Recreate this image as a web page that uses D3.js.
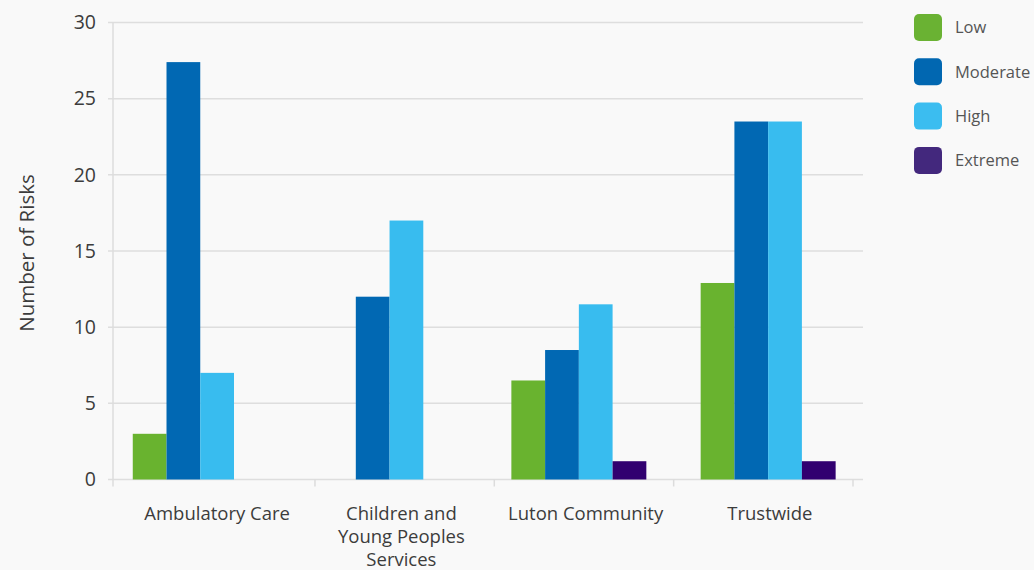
<!DOCTYPE html>
<html>
<head>
<meta charset="utf-8">
<script src="https://cdn.jsdelivr.net/npm/d3@7"></script>
<style>
  html, body { margin: 0; padding: 0; background: #f9f9f9; }
  svg { display: block; font-family: "Open Sans", "Noto Sans", sans-serif; }
</style>
</head>
<body>
<svg id="chart" width="1034" height="570"></svg>
<script>
// ---- data ----
const categories = ["Ambulatory Care", "Children and Young Peoples Services", "Luton Community", "Trustwide"];
const categoryLines = [["Ambulatory Care"], ["Children and", "Young Peoples", "Services"], ["Luton Community"], ["Trustwide"]];
const seriesNames = ["Low", "Moderate", "High", "Extreme"];
const lowValues      = [3, 0, 6.5, 12.9];
const moderateValues = [27.4, 12, 8.5, 23.5];
const highValues     = [7, 17, 11.5, 23.5];
const extremeValues  = [0, 0, 1.2, 1.2];
const yTicks = [0, 5, 10, 15, 20, 25, 30];
const yTitle = "Number of Risks";

// ---- styles ----
const barColors = ["#69b32f", "#0168b3", "#38bcef", "#310070"];
const legendColors = ["#6ab233", "#0167b1", "#3bbdf0", "#43287d"];

const seriesValues = [lowValues, moderateValues, highValues, extremeValues];
const rows = categories.map((c, i) => ({
  cat: c, lines: categoryLines[i],
  vals: seriesNames.map((s, j) => ({ series: s, idx: j, value: seriesValues[j][i] }))
}));

const svg = d3.select("#chart");
const plotLeft = 113, plotRight = 862, plotTop = 22.5, plotBottom = 479.5;

const y = d3.scaleLinear().domain([0, 30]).range([plotBottom, plotTop]);
const xBars = d3.scaleBand().domain(categories).range([105.6, 862.8]).paddingInner(0.287).paddingOuter(0.1435);
const xInner = d3.scaleBand().domain(seriesNames).range([0, xBars.bandwidth()]);
const xLabels = d3.scaleBand().domain(categories).range([125, 862]);
const xTicks = d3.scaleBand().domain(categories).range([135.6, 853]);

// gridlines
const grid = svg.append("g");
grid.selectAll("line").data(yTicks).join("line")
  .attr("x1", plotLeft - 5).attr("x2", plotRight + 1)
  .attr("y1", d => y(d)).attr("y2", d => y(d))
  .attr("stroke", "#dedede").attr("stroke-width", 1.5);

// y axis line
svg.append("line").attr("x1", plotLeft).attr("x2", plotLeft)
  .attr("y1", plotTop).attr("y2", plotBottom + 7)
  .attr("stroke", "#dcdcdc").attr("stroke-width", 1.5);

// y axis labels
const yAxis = d3.axisLeft(y).tickValues(yTicks).tickSize(0).tickPadding(0);
const yg = svg.append("g").attr("transform", `translate(96,0)`).call(yAxis);
yg.select(".domain").remove();
yg.selectAll("text").attr("font-size", 19.5).attr("fill", "#3c3c3c")
  .attr("font-family", "'Open Sans', sans-serif");

// y title
svg.append("text")
  .attr("transform", `translate(34,${(plotTop + plotBottom) / 2 + 2}) rotate(-90)`)
  .attr("text-anchor", "middle").attr("font-size", 20.5).attr("fill", "#3c3c3c")
  .text(yTitle);

// x ticks
svg.append("g").selectAll("line").data(categories).join("line")
  .attr("x1", d => xTicks(d) + xTicks.bandwidth()).attr("x2", d => xTicks(d) + xTicks.bandwidth())
  .attr("y1", plotBottom).attr("y2", plotBottom + 7)
  .attr("stroke", "#dcdcdc").attr("stroke-width", 1.5);

// bars
const groups = svg.append("g").selectAll("g").data(rows).join("g")
  .attr("transform", d => `translate(${xBars(d.cat)},0)`);
groups.selectAll("rect").data(d => d.vals.filter(v => v.value > 0)).join("rect")
  .attr("x", d => xInner(d.series))
  .attr("width", xInner.bandwidth())
  .attr("y", d => y(d.value))
  .attr("height", d => y(0) - y(d.value))
  .attr("fill", d => barColors[d.idx]);

// x axis labels
const xAxis = d3.axisBottom(xLabels).tickSize(0).tickPadding(0).tickFormat(() => "");
const xg = svg.append("g").attr("transform", `translate(0,${plotBottom})`).call(xAxis);
xg.select(".domain").remove();
xg.selectAll(".tick text").each(function (d, i) {
  const t = d3.select(this).attr("y", 0).attr("dy", null)
    .attr("font-size", 18.5).attr("fill", "#3c3c3c").attr("font-family", "'Open Sans', sans-serif");
  categoryLines[i].forEach((ln, k) => {
    t.append("tspan").attr("x", 0).attr("y", 40.5 + k * 23).text(ln);
  });
});

// legend
const legend = svg.append("g").selectAll("g").data(seriesNames).join("g")
  .attr("transform", (d, i) => `translate(914,${14 + i * 44.3})`);
legend.append("rect").attr("width", 28).attr("height", 27).attr("rx", 5)
  .attr("fill", (d, i) => legendColors[i]);
legend.append("text").attr("x", 41).attr("y", 13.5).attr("dy", "0.35em")
  .attr("font-size", 16.5).attr("fill", "#555").text(d => d);
</script>
</body>
</html>
